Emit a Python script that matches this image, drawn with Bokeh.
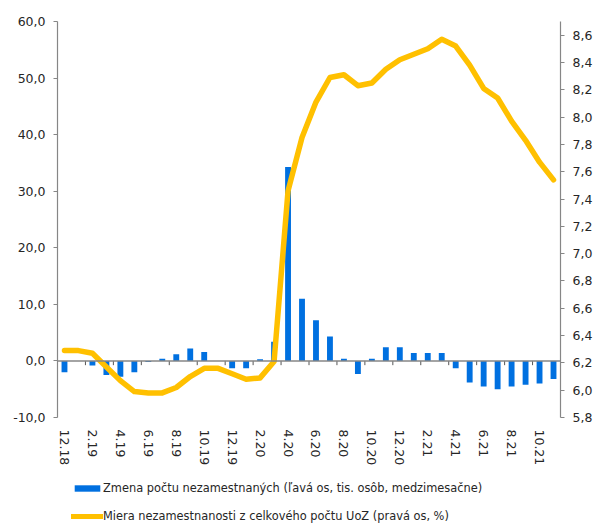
from bokeh.plotting import figure
from bokeh.layouts import column
from bokeh.models import (Range1d, LinearAxis, FixedTicker, CustomJSTickFormatter,
                          Span, Legend, LegendItem, ColumnDataSource)
from bokeh.embed import file_html
from bokeh.resources import INLINE

months = ["12.18", "1.19", "2.19", "3.19", "4.19", "5.19", "6.19", "7.19", "8.19",
          "9.19", "10.19", "11.19", "12.19", "1.20", "2.20", "3.20", "4.20", "5.20",
          "6.20", "7.20", "8.20", "9.20", "10.20", "11.20", "12.20", "1.21", "2.21",
          "3.21", "4.21", "5.21", "6.21", "7.21", "8.21", "9.21", "10.21", "11.21"]

change_unemployed = [-2.0, 0.0, -0.8, -2.5, -2.8, -2.0, -0.2, 0.4, 1.2, 2.2, 1.6, 0.0,
                     -1.3, -1.3, 0.3, 3.4, 34.3, 11.0, 7.2, 4.3, 0.4, -2.3, 0.4, 2.4,
                     2.4, 1.4, 1.4, 1.4, -1.3, -3.8, -4.5, -5.0, -4.5, -4.2, -4.0, -3.2]

unemployment_rate = [6.29, 6.29, 6.27, 6.17, 6.07, 5.99, 5.98, 5.98, 6.02, 6.10, 6.16, 6.16,
                     6.12, 6.08, 6.09, 6.21, 7.46, 7.85, 8.11, 8.29, 8.31, 8.23, 8.25, 8.35,
                     8.42, 8.46, 8.50, 8.57, 8.52, 8.38, 8.21, 8.14, 7.97, 7.83, 7.67, 7.54]

left_ticks = [-10, 0, 10, 20, 30, 40, 50, 60]
right_ticks = [5.8, 6.0, 6.2, 6.4, 6.6, 6.8, 7.0, 7.2, 7.4, 7.6, 7.8, 8.0, 8.2, 8.4, 8.6]

label_bar = "Zmena počtu nezamestnaných (ľavá os, tis. osôb, medzimesačne)"
label_line = "Miera nezamestnanosti z celkového počtu UoZ (pravá os, %)"

FONT = "DejaVu Sans"
TXT = "#262626"
AX = "#868686"
BLUE = "#0070E0"
YELLOW = "#FFC000"

n = len(months)
xs = list(range(n))
src = ColumnDataSource(dict(x=xs, bar=change_unemployed, rate=unemployment_rate))

p = figure(width=597, height=469, output_backend="svg", toolbar_location=None,
           x_range=Range1d(-0.5, n - 0.5), y_range=Range1d(-10, 60),
           min_border_top=21, min_border_left=57, min_border_right=37,
           min_border_bottom=52)
p.outline_line_color = None
p.xgrid.visible = False
p.ygrid.visible = False

p.extra_y_ranges = {"right": Range1d(5.8, 8.7)}

fmt = CustomJSTickFormatter(code="return tick.toFixed(1).replace('.', ',');")

# left axis
yl = p.yaxis[0]
yl.ticker = FixedTicker(ticks=left_ticks)
yl.formatter = fmt
yl.axis_line_color = AX
yl.axis_line_width = 1.2
yl.major_tick_line_color = AX
yl.major_tick_in = 0
yl.major_tick_out = 4
yl.minor_tick_line_color = None
yl.major_label_standoff = 8
yl.major_label_text_font = FONT
yl.major_label_text_font_size = "12.5px"
yl.major_label_text_color = TXT

# right axis
yr = LinearAxis(y_range_name="right", ticker=FixedTicker(ticks=right_ticks), formatter=fmt)
yr.axis_line_color = AX
yr.axis_line_width = 1.2
yr.major_tick_line_color = AX
yr.major_tick_in = 0
yr.major_tick_out = 4
yr.minor_tick_line_color = None
yr.major_label_standoff = 8
yr.major_label_text_font = FONT
yr.major_label_text_font_size = "12.5px"
yr.major_label_text_color = TXT
p.add_layout(yr, "right")

# bottom axis (labels only)
xa = p.xaxis[0]
label_idx = list(range(0, n, 2))
xa.ticker = FixedTicker(ticks=label_idx)
xa.major_label_overrides = {i: months[i] for i in label_idx}
xa.major_label_orientation = "vertical"
xa.axis_line_color = None
xa.major_tick_line_color = None
xa.minor_tick_line_color = None
xa.major_label_standoff = 6
xa.major_label_text_font = FONT
xa.major_label_text_font_size = "12.5px"
xa.major_label_text_color = TXT

# zero line with tick marks at category boundaries
p.add_layout(Span(location=0, dimension="width", line_color=AX, line_width=1.5))
bounds = [i + 1.5 for i in range(0, n - 2, 2)]
p.segment(x0=bounds, x1=bounds, y0=[0] * len(bounds), y1=[-0.75] * len(bounds),
          line_color="#555555", line_width=1)

p.vbar(x="x", top="bar", width=0.42, source=src, fill_color=BLUE, line_color=None)
p.line(x="x", y="rate", source=src, y_range_name="right", line_color=YELLOW,
       line_width=5.5, line_join="round", line_cap="round")

# legend panel below the chart (dummy renderers kept outside the visible range)
lg = figure(width=597, height=56, output_backend="svg", toolbar_location=None,
            x_range=Range1d(0, 1), y_range=Range1d(0, 1),
            min_border=0, min_border_left=0, min_border_right=0,
            min_border_top=0, min_border_bottom=0)
lg.axis.visible = False
lg.grid.visible = False
lg.outline_line_color = None
dummy = ColumnDataSource(dict(x=[-10, -9], y=[-10, -10]))
r_bar = lg.vbar(x="x", top="y", width=0.1, source=dummy, fill_color=BLUE, line_color=None)
r_line = lg.line(x="x", y="y", source=dummy, line_color=YELLOW, line_width=5,
                 line_cap="round")

legend = Legend(items=[LegendItem(label=label_bar, renderers=[r_bar]),
                       LegendItem(label=label_line, renderers=[r_line])],
                location=(14, 2), orientation="vertical",
                glyph_width=32, glyph_height=8, label_height=14, label_standoff=0,
                spacing=14, padding=0, margin=0,
                label_text_font=FONT, label_text_font_size="11.4px",
                label_text_color=TXT, border_line_color=None,
                background_fill_alpha=0)
lg.add_layout(legend, "center")

open("out.html", "w").write(file_html(column(p, lg, spacing=0), INLINE))
